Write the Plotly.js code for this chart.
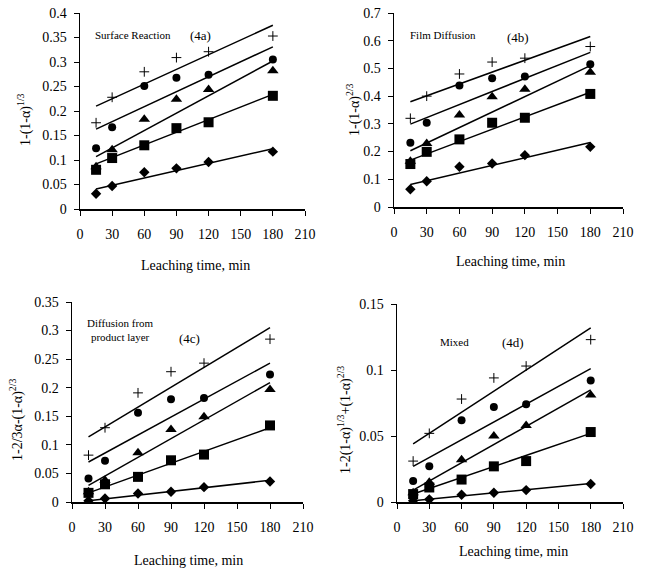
<!DOCTYPE html>
<html><head><meta charset="utf-8">
<script src="https://cdn.plot.ly/plotly-3.0.1.min.js"></script>
<style>html,body{margin:0;padding:0;background:#fff}#chart{width:650px;height:582px}</style>
</head><body><div id="chart"></div>
<script>
// Leaching time (min)
const time = [15, 30, 60, 90, 120, 180];
const fitTime = [15, 180];

// Panel 4a: Surface reaction, 1-(1-a)^(1/3)
const a_plus     = [0.176, 0.228, 0.280, 0.309, 0.321, 0.353];
const a_circle   = [0.124, 0.167, 0.251, 0.268, 0.274, 0.305];
const a_triangle = [0.086, 0.121, 0.183, 0.224, 0.244, 0.282];
const a_square   = [0.080, 0.104, 0.130, 0.165, 0.177, 0.231];
const a_diamond  = [0.031, 0.047, 0.075, 0.083, 0.096, 0.117];
const a_fit_plus = [0.210, 0.375];
const a_fit_circle = [0.163, 0.331];
const a_fit_triangle = [0.107, 0.302];
const a_fit_square = [0.092, 0.234];
const a_fit_diamond = [0.041, 0.123];

// Panel 4b: Film diffusion, 1-(1-a)^(2/3)
const b_plus     = [0.320, 0.400, 0.480, 0.523, 0.537, 0.579];
const b_circle   = [0.232, 0.304, 0.438, 0.465, 0.471, 0.515];
const b_triangle = [0.165, 0.229, 0.332, 0.398, 0.425, 0.486];
const b_square   = [0.155, 0.199, 0.244, 0.304, 0.322, 0.408];
const b_diamond  = [0.064, 0.093, 0.145, 0.157, 0.187, 0.217];
const b_fit_plus = [0.380, 0.615];
const b_fit_circle = [0.299, 0.558];
const b_fit_triangle = [0.203, 0.510];
const b_fit_square = [0.169, 0.414];
const b_fit_diamond = [0.081, 0.233];

// Panel 4c: Diffusion from product layer, 1-2/3a-(1-a)^(2/3)
const c_plus     = [0.082, 0.130, 0.191, 0.228, 0.243, 0.285];
const c_circle   = [0.041, 0.072, 0.156, 0.180, 0.182, 0.223];
const c_triangle = [0.018, 0.038, 0.086, 0.127, 0.149, 0.197];
const c_square   = [0.016, 0.031, 0.044, 0.073, 0.083, 0.134];
const c_diamond  = [0.002, 0.006, 0.015, 0.018, 0.026, 0.036];
const c_fit_plus = [0.114, 0.305];
const c_fit_circle = [0.070, 0.243];
const c_fit_triangle = [0.029, 0.209];
const c_fit_square = [0.016, 0.130];
const c_fit_diamond = [0.002, 0.038];

// Panel 4d: Mixed, 1-2(1-a)^(1/3)+(1-a)^(2/3)
const d_plus     = [0.031, 0.052, 0.078, 0.094, 0.103, 0.123];
const d_circle   = [0.016, 0.027, 0.062, 0.072, 0.074, 0.092];
const d_triangle = [0.007, 0.015, 0.032, 0.050, 0.058, 0.081];
const d_square   = [0.006, 0.011, 0.017, 0.027, 0.031, 0.053];
const d_diamond  = [0.001, 0.002, 0.0055, 0.007, 0.009, 0.0136];
const d_fit_plus = [0.044, 0.132];
const d_fit_circle = [0.027, 0.101];
const d_fit_triangle = [0.009, 0.085];
const d_fit_square = [0.006, 0.052];
const d_fit_diamond = [0.001, 0.014];

const xTickVals = [0, 30, 60, 90, 120, 150, 180, 210];

const panels = [
  {xa:'x', ya:'y', data:[a_plus,a_circle,a_triangle,a_square,a_diamond],
   fits:[a_fit_plus,a_fit_circle,a_fit_triangle,a_fit_square,a_fit_diamond]},
  {xa:'x2', ya:'y2', data:[b_plus,b_circle,b_triangle,b_square,b_diamond],
   fits:[b_fit_plus,b_fit_circle,b_fit_triangle,b_fit_square,b_fit_diamond]},
  {xa:'x3', ya:'y3', data:[c_plus,c_circle,c_triangle,c_square,c_diamond],
   fits:[c_fit_plus,c_fit_circle,c_fit_triangle,c_fit_square,c_fit_diamond]},
  {xa:'x4', ya:'y4', data:[d_plus,d_circle,d_triangle,d_square,d_diamond],
   fits:[d_fit_plus,d_fit_circle,d_fit_triangle,d_fit_square,d_fit_diamond]}
];
const symbols = ['cross-thin','circle','triangle-up','square','diamond'];
const sizes = [7, 8, 10, 10, 8];

const traces = [];
panels.forEach(p => {
  p.fits.forEach(f => {
    traces.push({x: fitTime, y: f, xaxis: p.xa, yaxis: p.ya, mode: 'lines',
      line: {color: '#000', width: 1.5}, showlegend: false, hoverinfo: 'skip'});
  });
  p.data.forEach((d, i) => {
    traces.push({x: time, y: d, xaxis: p.xa, yaxis: p.ya, mode: 'markers',
      marker: {symbol: symbols[i], size: sizes[i], color: '#000',
               line: {color: '#000', width: i === 0 ? 1 : 0}},
      showlegend: false});
  });
});

const font = {family: 'Liberation Serif, Times New Roman, serif', color: '#000', size: 14};
function xax(dom, anchor) {
  return {domain: dom, anchor: anchor, range: [0, 210], tickvals: xTickVals,
    showline: true, linecolor: '#000', linewidth: 1.5, ticks: 'outside', ticklen: 5,
    tickcolor: '#000', showgrid: false, zeroline: false, tickfont: font,
    ticklabelstandoff: 7, fixedrange: true};
}
function yax(dom, anchor, range, dtick) {
  return {domain: dom, anchor: anchor, range: range, dtick: dtick,
    showline: true, linecolor: '#000', linewidth: 1.5, ticks: 'outside', ticklen: 5,
    tickcolor: '#000', showgrid: false, zeroline: false, tickfont: font,
    ticklabelstandoff: 4, fixedrange: true};
}

function ann(text, x, y, xref, yref, size, xanchor) {
  return {text: text, x: x, y: y, xref: xref, yref: yref, showarrow: false,
    xanchor: xanchor || 'center', yanchor: 'middle',
    font: {family: font.family, color: '#000', size: size}};
}
function yt(text, x, y) {
  return {text: text, x: x, y: y, xref: 'paper', yref: 'paper', showarrow: false,
    textangle: -90, xanchor: 'center', yanchor: 'middle',
    font: {family: font.family, color: '#000', size: 14}};
}

const W = 650, H = 582;
const px = v => v / W, py = v => 1 - v / H;

const layout = {
  width: W, height: H, margin: {l: 0, r: 0, t: 0, b: 0},
  paper_bgcolor: '#fff', plot_bgcolor: '#fff', showlegend: false,
  xaxis:  xax([px(80), px(305)], 'y'),
  yaxis:  yax([py(209), py(13)], 'x', [0, 0.4], 0.05),
  xaxis2: xax([px(394), px(623)], 'y2'),
  yaxis2: yax([py(207), py(13)], 'x2', [0, 0.7], 0.1),
  xaxis3: xax([px(72), px(303)], 'y3'),
  yaxis3: yax([py(502), py(302)], 'x3', [0, 0.35], 0.05),
  xaxis4: xax([px(397), px(623)], 'y4'),
  yaxis4: yax([py(502), py(304)], 'x4', [0, 0.15], 0.05),
  annotations: [
    ann('Surface Reaction', 12, 0.355, 'x', 'y', 11, 'left'),
    ann('(4a)', 112, 0.355, 'x', 'y', 13),
    ann('Film Diffusion', 12.8, 0.62, 'x2', 'y2', 11, 'left'),
    ann('(4b)', 114, 0.61, 'x2', 'y2', 13),
    ann('Diffusion from<br>product layer', 11.8, 0.301, 'x3', 'y3', 11, 'left'),
    ann('(4c)', 107, 0.287, 'x3', 'y3', 13),
    ann('Mixed', 38, 0.121, 'x4', 'y4', 11, 'left'),
    ann('(4d)', 108, 0.121, 'x4', 'y4', 13),
    ann('Leaching time, min', px(195), py(266), 'paper', 'paper', 14),
    ann('Leaching time, min', px(510), py(261), 'paper', 'paper', 14),
    ann('Leaching time, min', px(188), py(560), 'paper', 'paper', 14),
    ann('Leaching time, min', px(513), py(551), 'paper', 'paper', 14),
    yt('1-(1-α)<sup>1/3</sup>', px(25), py(120)),
    yt('1-(1-α)<sup>2/3</sup>', px(353), py(110)),
    yt('1-2/3α-(1-α)<sup>2/3</sup>', px(16), py(420)),
    yt('1-2(1-α)<sup>1/3</sup>+(1-α)<sup>2/3</sup>', px(344), py(420))
  ]
};

Plotly.newPlot('chart', traces, layout, {staticPlot: true, displayModeBar: false});
</script></body></html>
